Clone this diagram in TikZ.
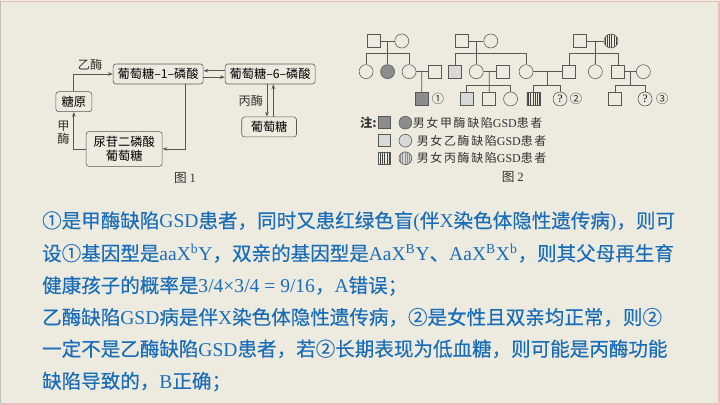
\documentclass[tikz,border=0pt]{standalone}
\usepackage{fontspec}
\setmainfont{Liberation Serif}
\newfontfamily\cjk{Noto Sans CJK SC}
\newfontfamily\cjkbody{Noto Sans CJK SC}[FakeBold=0.4]
\newfontfamily\cjkwide{Noto Sans CJK SC}[LetterSpace=14]
\newfontfamily\latinfont{Liberation Serif}
\usepackage{xcolor}
\usetikzlibrary{arrows.meta, calc, patterns.meta}

\definecolor{bgcol}{RGB}{237,234,223}
\definecolor{framepink}{RGB}{236,190,188}
\definecolor{txtblue}{RGB}{26,109,184}
\definecolor{linegray}{RGB}{88,88,88}
\definecolor{darkfill}{RGB}{140,140,140}
\definecolor{lightfill}{RGB}{216,216,216}

\newcommand{\lat}[1]{{\latinfont #1}}
\newcommand{\sups}[1]{\textsuperscript{#1}}

\tikzset{
  box/.style={draw=linegray, rounded corners=2pt, fill=bgcol, minimum height=0.5cm,
    inner sep=2pt, font=\cjk\fontsize{8.7}{10.5}\selectfont, align=center},
  flow/.style={draw=linegray, line width=0.6pt, -{Stealth[length=3.5pt,width=2.6pt]}},
  tag/.style={font=\cjk\fontsize{8.7}{10}\selectfont, inner sep=0pt, text=black!80},
  male/.style={draw=linegray, rectangle, minimum size=0.325cm, inner sep=0pt, fill=bgcol},
  female/.style={draw=linegray, circle, minimum size=0.35cm, inner sep=0pt, fill=bgcol},
  kin/.style={draw=linegray, line width=0.6pt},
  striped/.style={preaction={fill=bgcol}, pattern={Lines[angle=90,distance=1.6pt,line width=0.5pt]}, pattern color=black!75},
  body/.style={font=\cjkbody\fontsize{13.9}{18}\selectfont, text=txtblue, anchor=west, inner sep=0pt},
}

\begin{document}
\begin{tikzpicture}[x=0.025cm, y=-0.025cm]

% background and frame
\fill[bgcol] (0,0) rectangle (720,405);
\draw[framepink, line width=1pt] (0.5,1.5) -- (719,1.5) -- (719,404) -- (0.5,404);
\draw[black!25, line width=0.8pt] (0.5,1.5) -- (0.5,404);

% ---- figure 1 ----
\node[box, minimum width=2.25cm] (p1) at (158,74) {葡萄糖–1–磷酸};
\node[box, minimum width=2.25cm] (p6) at (270,74) {葡萄糖–6–磷酸};
\node[box, minimum width=0.9cm] (glyc) at (73.7,101.7) {糖原};
\node[box, minimum width=1.37cm] (glu) at (269,127) {葡萄糖};
\node[box, minimum width=1.9cm, minimum height=0.87cm, inner sep=1pt] (udp) at (124,149) {尿苷二磷酸\\葡萄糖};

\node[tag] (enzB) at (90,65) {乙酶};
\node[tag] (enzC) at (250.7,100.7) {丙酶};
\node[tag, align=center, font=\cjk\fontsize{8.7}{9.5}\selectfont] (enzA) at (63.3,133) {甲\\酶};
\node[tag, font=\cjk\fontsize{9}{10}\selectfont] (fig1) at (185,178) {图 \lat{1}};

\draw[flow] (glyc.north) |- (p1.west);
\draw[flow] ([xshift=-0.44cm]p1.south east) |- (udp.east);
\draw[flow] (udp.west) -| (glyc.south);
\draw[flow] ([yshift=0.08cm]p6.west) -- ([yshift=0.08cm]p1.east);
\draw[flow] ([yshift=-0.08cm]p1.east) -- ([yshift=-0.08cm]p6.west);
\draw[flow] ([xshift=-0.08cm]p6.south) -- ([xshift=-0.08cm]p6.south |- glu.north);
\draw[flow] ([xshift=0.08cm]p6.south |- glu.north) -- ([xshift=0.08cm]p6.south);

% ---- figure 2: pedigree ----
\coordinate (barI) at (0,53);
\coordinate (barII) at (0,85);

% generation I
\node[male] (A1) at (373.3,41) {};
\node[female] (A2) at (401.7,41) {};
\node[male] (B1) at (461.7,41) {};
\node[female] (B2) at (490.7,41) {};
\node[male] (C1) at (580,41) {};
\node[female, striped] (C2) at (611,41) {};

% generation II
\node[female] (A3) at (366,71.7) {};
\node[female, fill=darkfill] (A4) at (387.5,71.7) {};
\node[female] (A5) at (409,71.7) {};
\node[male] (D1) at (434.3,71.7) {};
\node[male, fill=lightfill] (B3) at (455,71.7) {};
\node[female] (B4) at (476.2,71.7) {};
\node[male] (E1) at (502.3,71.7) {};
\node[female] (B5) at (526,71.7) {};
\node[male] (C3) at (569,71.7) {};
\node[female] (C4) at (595.3,71.7) {};
\node[male] (C5) at (618,71.7) {};
\node[female] (F1) at (643.3,71.7) {};

% generation III
\node[male, fill=darkfill] (A6) at (421.7,99) {};
\node[tag] (n1) at (438,99) {①};
\node[male, fill=lightfill] (B6) at (466.3,99) {};
\node[male] (B7) at (489.2,99) {};
\node[female] (B8) at (510.5,99) {};
\node[male, striped] (G1) at (533.3,99) {};
\node[female, font=\latinfont\fontsize{8}{9}\selectfont] (G2) at (560,99) {?};
\node[tag] (n2) at (576,99) {②};
\node[male] (H1) at (615,99) {};
\node[female, font=\latinfont\fontsize{8}{9}\selectfont] (H2) at (645,99) {?};
\node[tag] (n3) at (662.3,99) {③};

% couples
\draw[kin] (A1) -- (A2);
\draw[kin] (B1) -- (B2);
\draw[kin] (C1) -- (C2);
\draw[kin] (A5) -- (D1);
\draw[kin] (B4) -- (E1);
\draw[kin] (B5) -- (C3);
\draw[kin] (C5) -- (F1);

% descent
\draw[kin] ($(A1)!0.5!(A2)$) -- (A4);
\draw[kin] (A3.north) |- (A5.north |- barI) -- (A5.north);
\draw[kin] ($(B1)!0.5!(B2)$) -- (B4);
\draw[kin] (B3.north) |- (B5.north |- barI) -- (B5.north);
\draw[kin] ($(C1)!0.5!(C2)$) -- (C4);
\draw[kin] (C3.north) |- (C5.north |- barI) -- (C5.north);
\draw[kin] ($(A5)!0.5!(D1)$) -- (A6);
\draw[kin] ($(B4)!0.5!(E1)$) -- (B7);
\draw[kin] (B6.north) |- (B8.north |- barII) -- (B8.north);
\coordinate (mBC) at ($(B5)!0.5!(C3)$);
\draw[kin] (mBC) -- (mBC |- barII);
\draw[kin] (G1.north) |- (G2.north |- barII) -- (G2.north);
\coordinate (mCF) at ($(C5)!0.5!(F1)$);
\draw[kin] (mCF) -- (mCF |- barII);
\draw[kin] (H1.north) |- (H2.north |- barII) -- (H2.north);

% legend
\node[tag, font=\cjk\bfseries\fontsize{8.7}{10}\selectfont] (note) at (368.3,122.7) {注:};
\node[male, minimum size=0.3cm, fill=darkfill] (ka) at (384.3,122.7) {};
\node[female, minimum size=0.32cm, fill=darkfill] (kb) at (405.3,122.7) {};
\node[tag, anchor=west, font=\cjkwide\fontsize{8.5}{10}\selectfont] (ta) at (412.5,122.7) {男女甲酶缺陷\lat{GSD}患者};
\node[male, minimum size=0.3cm, fill=lightfill] (kc) at (384.3,140.7) {};
\node[female, minimum size=0.32cm, fill=lightfill] (kd) at (405.3,140.7) {};
\node[tag, anchor=west, font=\cjkwide\fontsize{8.5}{10}\selectfont] (tb) at (416.5,140.7) {男女乙酶缺陷\lat{GSD}患者};
\node[male, minimum size=0.3cm, striped] (ke) at (384.3,158.3) {};
\node[female, minimum size=0.32cm, preaction={fill=lightfill}, pattern={Lines[angle=90,distance=1.6pt,line width=0.4pt]}, pattern color=black!45] (kf) at (405.3,158.3) {};
\node[tag, anchor=west, font=\cjkwide\fontsize{8.5}{10}\selectfont] (tc) at (416.5,158.3) {男女丙酶缺陷\lat{GSD}患者};
\node[tag, font=\cjk\fontsize{9}{10}\selectfont] (fig2) at (512.7,176.7) {图 \lat{2}};

% ---- explanation text ----
\node[body] (l1) at (41.7,221.7) {①是甲酶缺陷\lat{GSD}患者，同时又患红绿色盲\lat{(}伴\lat{X}染色体隐性遗传病\lat{)}，则可};
\node[body] (l2) at (41.7,253.3) {设①基因型是\lat{aaX\sups{b}Y}，双亲的基因型是\lat{AaX\sups{B}Y}、\lat{AaX\sups{B}X\sups{b}}，则其父母再生育};
\node[body] (l3) at (41.7,286) {健康孩子的概率是\lat{3/4×3/4 = 9/16}，\lat{A}错误；};
\node[body] (l4) at (41.7,317.3) {乙酶缺陷\lat{GSD}病是伴\lat{X}染色体隐性遗传病，②是女性且双亲均正常，则②};
\node[body] (l5) at (41.7,349) {一定不是乙酶缺陷\lat{GSD}患者，若②长期表现为低血糖，则可能是丙酶功能};
\node[body] (l6) at (41.7,381.7) {缺陷导致的，\lat{B}正确；};

\end{tikzpicture}
\end{document}
